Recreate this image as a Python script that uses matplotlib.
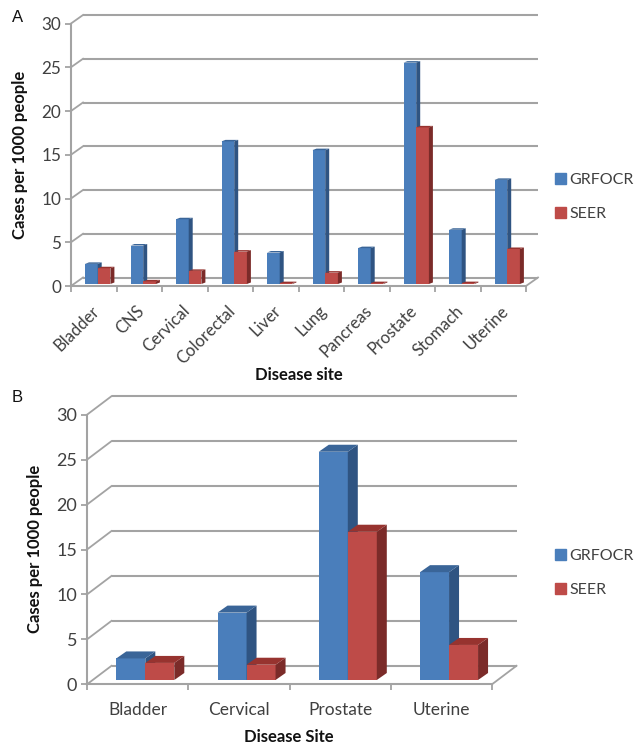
import matplotlib
matplotlib.use("Agg")
import matplotlib.pyplot as plt
from matplotlib.patches import Patch, Polygon
from matplotlib.transforms import ScaledTranslation

plt.rcParams['font.family'] = ['Lato', 'DejaVu Sans']

W, H = 641, 756
TEXTO = '#404040'
GRADE = '#a3a3a3'
AZUL = ('#4a7ebb', '#2f5482', '#3a6598')
VERMELHO = ('#be4b48', '#7b2b29', '#97332f')

# Dados
cats_a = ['Bladder', 'CNS', 'Cervical', 'Colorectal', 'Liver', 'Lung',
          'Pancreas', 'Prostate', 'Stomach', 'Uterine']
grfocr_a = [2.3, 4.4, 7.4, 16.3, 3.6, 15.3, 4.1, 25.3, 6.2, 11.9]
seer_a = [1.8, 0.3, 1.5, 3.7, 0.1, 1.3, 0.1, 17.9, 0.1, 4.0]

cats_b = ['Bladder', 'Cervical', 'Prostate', 'Uterine']
grfocr_b = [2.4, 7.5, 25.4, 12.0]
seer_b = [1.9, 1.7, 16.5, 3.9]

ticks_y = [0, 5, 10, 15, 20, 25, 30]


def desenha_barra(ax, x, larg, val, base, dx, dy, cores):
    topo = base + val
    ax.bar(x, val, width=larg, bottom=base, align='edge', color=cores[0], zorder=3)
    ax.add_patch(Polygon([(x + larg, base), (x + larg + dx, base + dy),
                          (x + larg + dx, topo + dy), (x + larg, topo)],
                         facecolor=cores[1], edgecolor='none', zorder=3, clip_on=False))
    ax.add_patch(Polygon([(x, topo), (x + dx, topo + dy),
                          (x + larg + dx, topo + dy), (x + larg, topo)],
                         facecolor=cores[2], edgecolor='none', zorder=3, clip_on=False))


def painel(fig, cats, grf, seer, px, rot):
    # px: caixa frontal em pixels e profundidades do falso 3D
    x0, x1, y0, y1 = px['x0'], px['x1'], px['y0'], px['y1']
    ax = fig.add_axes([x0 / W, 1 - y0 / H, (x1 - x0) / W, (y0 - y1) / H])
    n = len(cats)
    ax.set_xlim(0, n)
    ax.set_ylim(0, 30)
    ux = n / (x1 - x0)
    uy = 30 / (y0 - y1)

    # parede do fundo e diagonais
    tx, ty = px['back_x'] * ux, px['back_y'] * uy
    for v in ticks_y:
        ax.plot([tx, n + tx], [v + ty, v + ty], color=GRADE, lw=1.5,
                zorder=1, clip_on=False, solid_capstyle='butt')
        ax.plot([0, tx], [v, v + ty], color=GRADE, lw=1.3, zorder=1, clip_on=False)
    ax.plot([n, n + tx], [0, ty], color=GRADE, lw=1.3, zorder=1, clip_on=False)

    # barras
    larg = px['bar'] * ux
    dx, dy = px['dx'] * ux, px['dy'] * uy
    base = px['lift'] * uy
    for i in range(n):
        xb = i + px['off'] * ux
        desenha_barra(ax, xb, larg, grf[i], base, dx, dy, AZUL)
        desenha_barra(ax, xb + larg, larg, seer[i], base, dx, dy, VERMELHO)

    for lado in ['top', 'right']:
        ax.spines[lado].set_visible(False)
    for lado in ['left', 'bottom']:
        ax.spines[lado].set_color(GRADE)
        ax.spines[lado].set_linewidth(1.5)
        ax.spines[lado].set_zorder(2)
    ax.patch.set_alpha(0)

    ax.set_yticks(ticks_y)
    ax.set_xticks(range(n + 1))
    ax.set_xticklabels([])
    ax.set_xticks([i + 0.5 for i in range(n)], minor=True)
    ax.tick_params(axis='both', which='major', length=4, width=1.3, color=GRADE,
                   labelsize=px['fs_y'], labelcolor=TEXTO, pad=3)
    ax.tick_params(axis='x', which='minor', length=0, pad=px['pad'])
    if rot:
        labels = ax.set_xticklabels(cats, minor=True, rotation=45, ha='right', va='top',
                                    rotation_mode='anchor', fontsize=px['fs_x'], color=TEXTO)
        # desloca um pouco para a esquerda, como no original
        for lab in labels:
            lab.set_transform(lab.get_transform() + ScaledTranslation(-3 / 100, 0, fig.dpi_scale_trans))
    else:
        ax.set_xticklabels(cats, minor=True, fontsize=px['fs_x'], color=TEXTO)
    return ax


def legenda(fig, x, y):
    fig.legend(handles=[Patch(color=AZUL[0], label='GRFOCR'),
                        Patch(color=VERMELHO[0], label='SEER')],
               loc='upper left', bbox_to_anchor=(x / W, 1 - y / H), frameon=False,
               fontsize=11.5, labelcolor=TEXTO, handlelength=0.7, handleheight=0.7,
               handletextpad=0.2, labelspacing=1.22, borderpad=0, borderaxespad=0)


def rotulo(fig, x, y, s, rotation=0, size=12):
    fig.text(x / W, 1 - y / H, s, ha='center', va='center', rotation=rotation,
             fontsize=size, fontweight='bold', color='#111111')


fig = plt.figure(figsize=(W / 100, H / 100), dpi=100, facecolor='white')

geo_a = dict(x0=71, x1=526, y0=286, y1=23.5, back_x=12, back_y=8.5, bar=12.7, off=14,
             dx=4, dy=1.5, lift=2, fs_y=12.3, fs_x=12, pad=12)
geo_b = dict(x0=87, x1=492, y0=684.3, y1=414.7, back_x=24.5, back_y=18.5, bar=29, off=29.3,
             dx=10, dy=7, lift=4.3, fs_y=13, fs_x=12.5, pad=13)

painel(fig, cats_a, grfocr_a, seer_a, geo_a, True)
painel(fig, cats_b, grfocr_b, seer_b, geo_b, False)

legenda(fig, 555, 173)
legenda(fig, 555, 549)

rotulo(fig, 20, 155, 'Cases per 1000 people', rotation=90)
rotulo(fig, 299, 375, 'Disease site')
rotulo(fig, 35, 549, 'Cases per 1000 people', rotation=90)
rotulo(fig, 288.5, 737, 'Disease Site')

fig.text(12 / W, 1 - 18 / H, 'A', family='Liberation Sans', fontsize=12, ha='left', va='center', color='#111111')
fig.text(12 / W, 1 - 397 / H, 'B', family='Liberation Sans', fontsize=12, ha='left', va='center', color='#111111')

fig.savefig('out.png', dpi=100)
